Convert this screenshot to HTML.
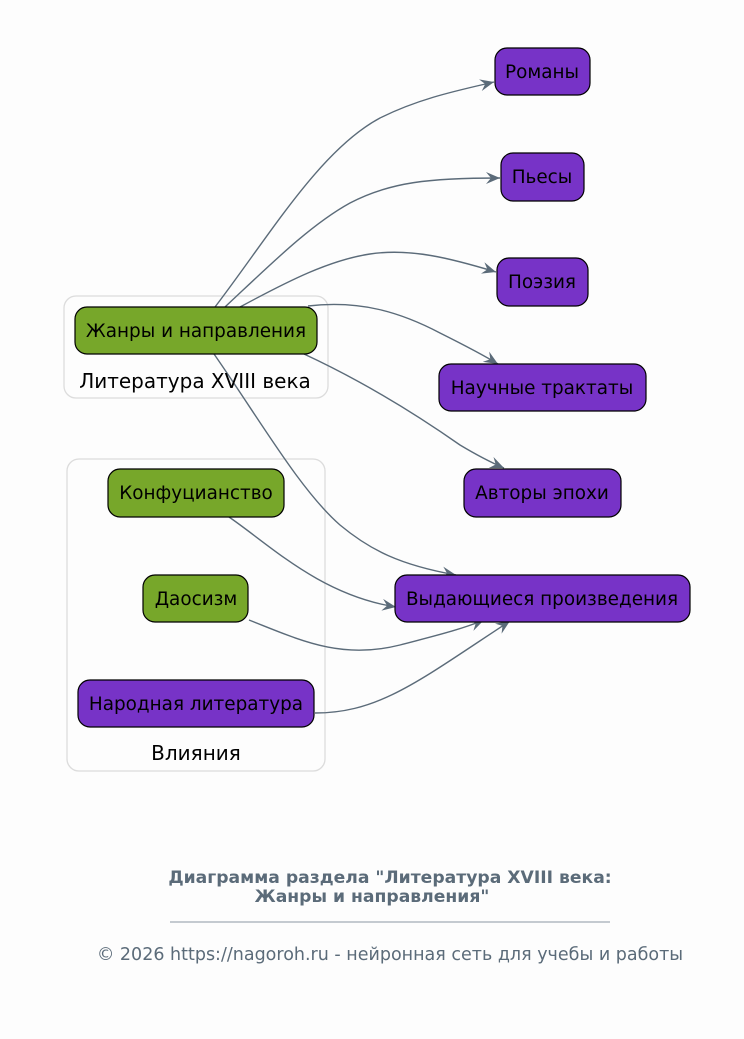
<!DOCTYPE html>
<html><head><meta charset="utf-8"><style>
html,body{margin:0;padding:0;background:#fdfdfd;}
svg{display:block;font-family:"DejaVu Sans","Liberation Sans",sans-serif;}
</style></head><body>
<svg width="744" height="1039" viewBox="0 0 744 1039" xmlns="http://www.w3.org/2000/svg">
<defs>
<marker id="a" markerWidth="16" markerHeight="12" refX="14" refY="6" orient="auto" markerUnits="userSpaceOnUse">
<path d="M0,0 L14,6 L0,12 L5,6 Z" fill="#5b6b79"/>
</marker>
</defs>
<rect width="744" height="1039" fill="#fdfdfd"/>
<rect x="64" y="296" width="264" height="102" rx="12" fill="none" stroke="#dcdcdc" stroke-width="1.3"/>
<rect x="67" y="459" width="258" height="312" rx="12" fill="none" stroke="#dcdcdc" stroke-width="1.3"/>
<g fill="none" stroke="#5b6b79" stroke-width="1.4" marker-end="url(#a)">
<path d="M215,307 C270,235 320,150 380,118 C420,98 460,90 494,82"/>
<path d="M225,307 C270,265 310,225 350,203 C390,182 430,178 500,178"/>
<path d="M240,307 C290,280 330,260 370,254 C410,248 450,258 496,272"/>
<path d="M308,306 C360,300 400,312 440,333 C460,343 480,353 498,364"/>
<path d="M304,354 C360,380 410,410 460,445 C475,454 490,462 504,468"/>
<path d="M214,354 C260,420 300,490 340,525 C370,550 400,565 456,575"/>
<path d="M229,517 C270,545 320,595 396,607"/>
<path d="M249,620 C300,640 340,660 400,645 C430,637 460,630 484,620"/>
<path d="M315,713 C380,713 420,680 510,621"/>
</g>
<g stroke="#000" stroke-width="1.2">
<rect x="495" y="48" width="95" height="47" rx="12" fill="#7733c7"/>
<rect x="501" y="153" width="83" height="48" rx="12" fill="#7733c7"/>
<rect x="497" y="258" width="91" height="48" rx="12" fill="#7733c7"/>
<rect x="439" y="364" width="207" height="47" rx="12" fill="#7733c7"/>
<rect x="464" y="469" width="157" height="48" rx="12" fill="#7733c7"/>
<rect x="395" y="575" width="295" height="47" rx="12" fill="#7733c7"/>
<rect x="75" y="307" width="242" height="47" rx="12" fill="#77a72a"/>
<rect x="108" y="469" width="176" height="48" rx="12" fill="#77a72a"/>
<rect x="143" y="575" width="105" height="47" rx="12" fill="#77a72a"/>
<rect x="78" y="680" width="236" height="47" rx="12" fill="#7733c7"/>
</g>
<g font-size="18.4" fill="#000" text-anchor="middle">
<text x="542" y="78">Романы</text>
<text x="542" y="183">Пьесы</text>
<text x="542" y="288">Поэзия</text>
<text x="542" y="394">Научные трактаты</text>
<text x="542" y="499">Авторы эпохи</text>
<text x="542" y="605">Выдающиеся произведения</text>
<text x="196" y="337">Жанры и направления</text>
<text x="196" y="499">Конфуцианство</text>
<text x="196" y="605">Даосизм</text>
<text x="196" y="710">Народная литература</text>
<text x="195" y="388" font-size="20">Литература XVIII века</text>
<text x="196" y="760" font-size="20">Влияния</text>
</g>
<g fill="#5b6b79" text-anchor="middle">
<text x="390" y="883" font-size="17.2" font-weight="bold">Диаграмма раздела "Литература XVIII века:</text>
<text x="372" y="902" font-size="17.2" font-weight="bold">Жанры и направления"</text>
<line x1="170" y1="922" x2="610" y2="922" stroke="#8a96a2" stroke-width="1"/>
<text x="390" y="960" font-size="17.5">© 2026 https://nagoroh.ru - нейронная сеть для учебы и работы</text>
</g>
</svg>
</body></html>
